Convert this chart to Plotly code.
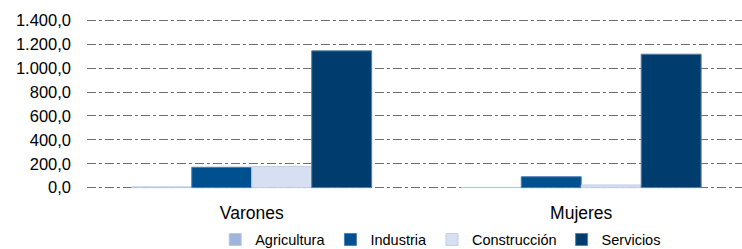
import plotly.graph_objects as go

categories = ["Varones", "Mujeres"]
series_names = ["Agricultura", "Industria", "Construcción", "Servicios"]
agricultura = [6.0, 2.0]
industria = [170.0, 91.0]
construccion = [176.0, 22.0]
servicios = [1145.0, 1117.0]
y_ticks = [0, 200, 400, 600, 800, 1000, 1200, 1400]

values = [agricultura, industria, construccion, servicios]
colors = ["#9FB3DD", "#00508F", "#D7E0F2", "#003D6E"]
line_colors = ["#B8C8E8", "#4A7FB0", "#C0CDE8", "#5A7FA0"]

fig = go.Figure()
for name, vals, c, lc in zip(series_names, values, colors, line_colors):
    fig.add_trace(go.Bar(
        name=name, x=categories, y=vals,
        marker=dict(color=c, line=dict(color=lc, width=1)),
    ))

fig.update_layout(
    width=742, height=249,
    barmode="group", bargap=0.272, bargroupgap=0,
    separators=",.",
    paper_bgcolor="white", plot_bgcolor="white",
    margin=dict(l=87, r=0, t=18, b=59, autoexpand=False),
    font=dict(family="Liberation Sans, Arial, sans-serif", color="#000000"),
    xaxis=dict(
        range=[-0.5, 1.488], showgrid=False, zeroline=False, showline=False,
        tickfont=dict(size=17.5), ticks="", ticklabelstandoff=10,
    ),
    yaxis=dict(
        range=[-20, 1420], tickvals=y_ticks, tickformat=",.1f",
        showgrid=True, gridcolor="#707070", gridwidth=1, griddash="dashdot",
        zeroline=False, showline=False, ticks="",
        tickfont=dict(size=16.5), ticklabelstandoff=15,
    ),
    legend=dict(
        orientation="h", x=0.54, xanchor="center", y=-0.195, yanchor="top",
        font=dict(size=14.5), itemwidth=30, tracegroupgap=0,
        bgcolor="rgba(0,0,0,0)",
    ),
)

fig.write_html(
    "out.html",
    config={"displayModeBar": False},
    post_script="document.body.style.margin='0';document.body.style.padding='0';",
)
